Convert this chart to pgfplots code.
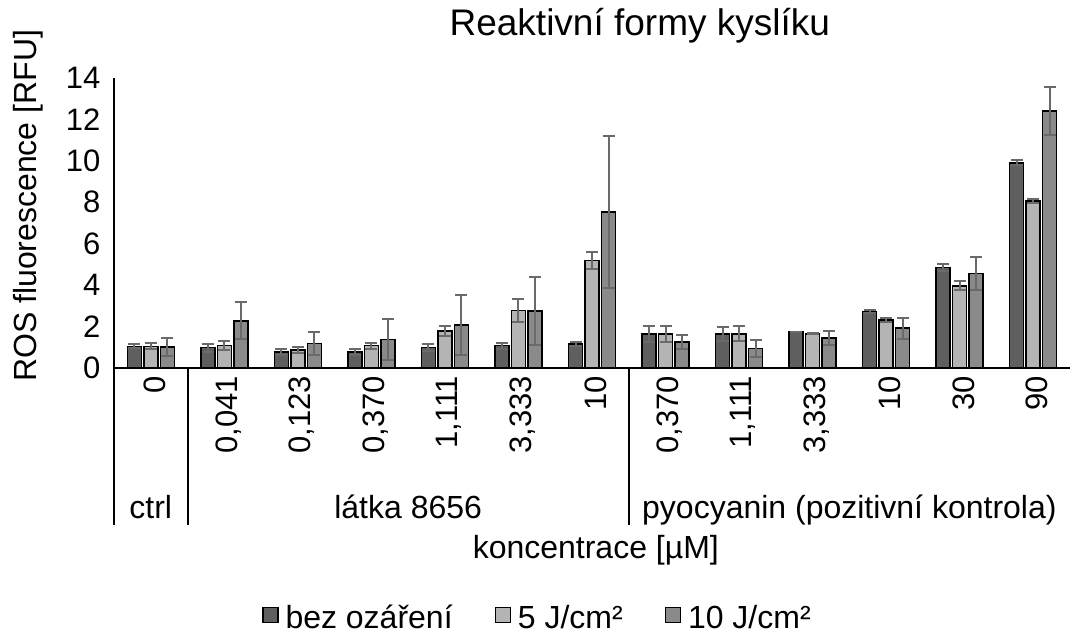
\documentclass[border=0pt]{standalone}
\usepackage{fontspec}
\setmainfont{Liberation Sans}
\usepackage{pgfplots}
\usepackage{pgfplotstable}
\pgfplotsset{compat=1.18}
\usetikzlibrary{calc}
\definecolor{cDark}{HTML}{5F5F5F}
\definecolor{cLight}{HTML}{B4B4B4}
\definecolor{cMid}{HTML}{8A8A8A}
\definecolor{cErr}{HTML}{6A6A6A}
\pgfplotstableread{
x y e
0 1.05 0.10
1 0.98 0.20
2 0.78 0.13
3 0.78 0.13
4 0.98 0.18
5 1.08 0.15
6 1.15 0.10
7 1.65 0.40
8 1.65 0.35
9 1.74 0.02
10 2.73 0.06
11 4.85 0.15
12 9.90 0.12
}\tDark
\pgfplotstableread{
x y e
0 1.05 0.15
1 1.08 0.23
2 0.88 0.15
3 1.08 0.15
4 1.78 0.24
5 2.78 0.55
6 5.20 0.40
7 1.65 0.38
8 1.65 0.36
9 1.65 0.02
10 2.32 0.10
11 3.97 0.22
12 8.05 0.10
}\tLight
\pgfplotstableread{
x y e
0 1.02 0.42
1 2.28 0.90
2 1.18 0.55
3 1.38 1.00
4 2.08 1.45
5 2.75 1.65
6 7.53 3.65
7 1.26 0.32
8 0.95 0.40
9 1.45 0.35
10 1.92 0.50
11 4.56 0.78
12 12.40 1.15
}\tMid
\begin{document}
\begin{tikzpicture}[font=\fontsize{32}{38}\selectfont]
\begin{axis}[name=ax, scale only axis, width=956pt, height=290pt,
  clip=false,
  ybar, bar width=14pt,
  xmin=-0.5, xmax=12.5, ymin=0, ymax=14,
  axis x line*=bottom, axis y line*=left,
  axis line style={line width=1.8pt, -},
  ytick={0,2,...,14}, ytick style={draw=none},
  xtick={0,...,12},
  xticklabels={0,{0,041},{0,123},{0,370},{1,111},{3,333},10,{0,370},{1,111},{3,333},10,30,90},
  xtick style={draw=none},
  x tick label style={rotate=90, anchor=east, yshift=-4pt, font=\fontsize{31}{36}\selectfont},
  y tick label style={xshift=-10pt, font=\fontsize{31}{36}\selectfont},
  /pgf/number format/assume math mode=true,
  title={Reaktivní formy kyslíku},
  title style={at={(axis description cs:0.55,1.159)}, anchor=center, font=\fontsize{37}{44}\selectfont},
  ylabel={ROS fluorescence [RFU]},
  ylabel style={at={(axis description cs:-0.09,0.559)}, anchor=center, font=\fontsize{32}{38}\selectfont},
  xlabel={koncentrace [µM]},
  xlabel style={at={(axis description cs:0.504,-0.628)}, anchor=center, font=\fontsize{32}{38}\selectfont},
  legend style={at={(axis description cs:0.443,-0.86)}, anchor=center, draw=none,
    font=\fontsize{32}{38}\selectfont, /tikz/every odd column/.append style={column sep=5pt},
    /tikz/every even column/.append style={column sep=40pt}},
  legend columns=3,
  legend image code/.code={\draw[#1,draw=black,line width=1.2pt] (0pt,-5pt) rectangle (15pt,10pt);},
]
\addplot[fill=cDark, draw=black, line width=1.5pt, bar shift=-16.5pt,
  error bars/.cd, y dir=both, y explicit,
  error bar style={cErr, line width=2pt},
  error mark options={cErr, line width=2pt, mark size=6pt, rotate=90}]
  table[x=x, y=y, y error=e]{\tDark};
\addplot[fill=cLight, draw=black, line width=1.5pt, bar shift=0pt,
  error bars/.cd, y dir=both, y explicit,
  error bar style={cErr, line width=2pt},
  error mark options={cErr, line width=2pt, mark size=6pt, rotate=90}]
  table[x=x, y=y, y error=e]{\tLight};
\addplot[fill=cMid, draw=black, line width=1.5pt, bar shift=16.5pt,
  error bars/.cd, y dir=both, y explicit,
  error bar style={cErr, line width=2pt},
  error mark options={cErr, line width=2pt, mark size=6pt, rotate=90}]
  table[x=x, y=y, y error=e]{\tMid};
\legend{bez ozáření, 5 J/cm², 10 J/cm²}
\draw[line width=2pt] (axis cs:-0.5,0) -- ++(0pt,-157pt);
\draw[line width=2pt] (axis cs:0.5,0) -- ++(0pt,-157pt);
\draw[line width=2pt] (axis cs:6.5,0) -- ++(0pt,-157pt);
\node[anchor=base] at ([yshift=-150pt]axis cs:0,0) {ctrl};
\node[anchor=base] at ([yshift=-150pt]axis cs:3.5,0) {látka 8656};
\node[anchor=base] at ([yshift=-150pt]axis cs:9.5,0) {pyocyanin (pozitivní kontrola)};
\end{axis}
\pgfresetboundingbox
\path ($(ax.south west)+(-114pt,-271pt)$) rectangle ($(ax.south west)+(956pt,368pt)$);
\end{tikzpicture}
\end{document}
